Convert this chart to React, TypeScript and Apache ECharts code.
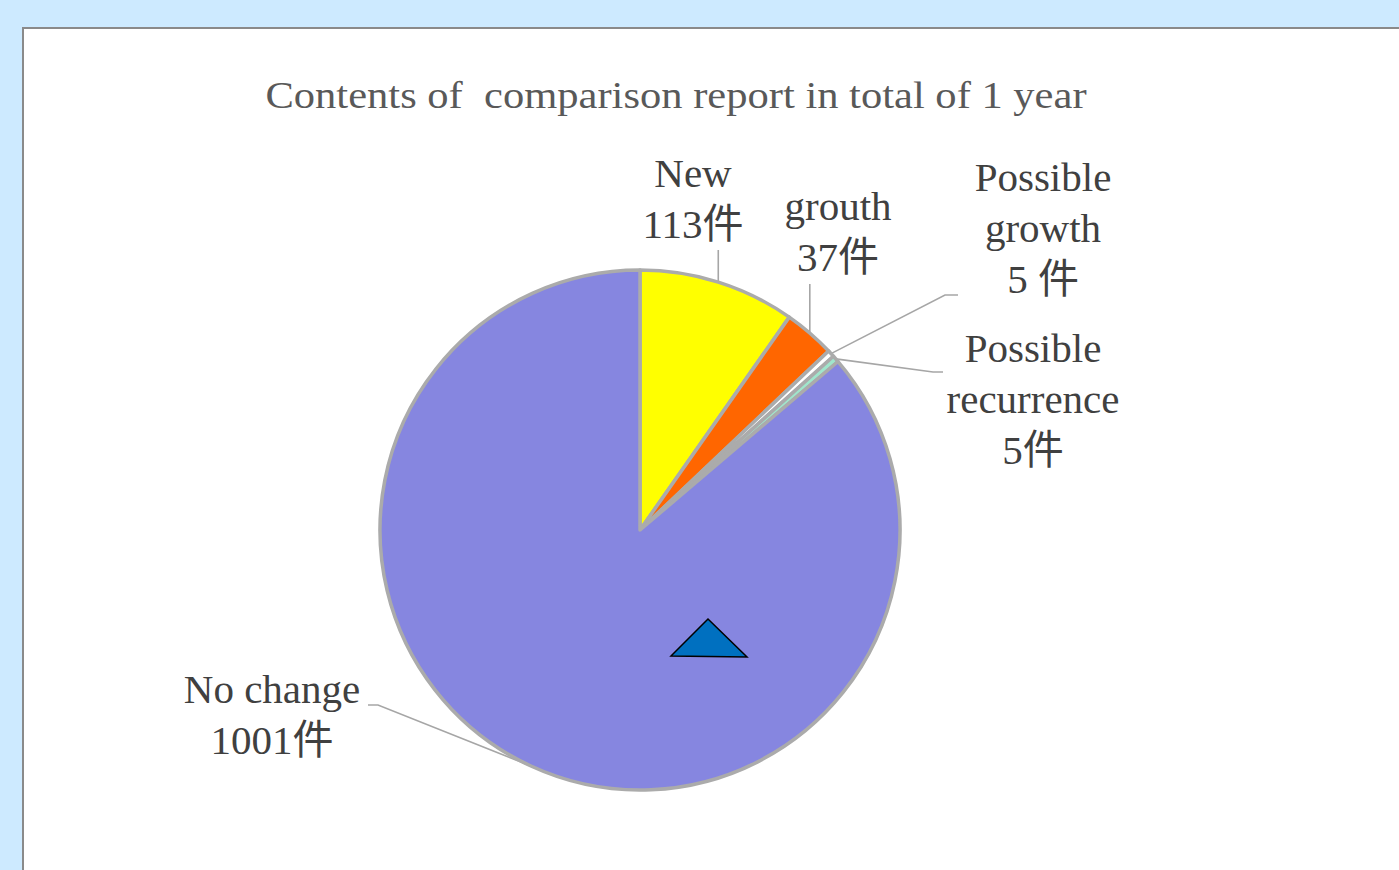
import React, { useEffect, useRef } from "react";
import * as echarts from "echarts";

const chartTitle = "Contents of  comparison report in total of 1 year";
const categories = ["New", "grouth", "Possible\ngrowth", "Possible\nrecurrence", "No change"];
const values = [113, 37, 5, 5, 1001];
const unitSeparators = ["", "", " ", "", ""];
const unitText = "件";
const sliceColors = ["#ffff00", "#ff6600", "#ffffff", "#a0e6cc", "#8686e0"];
const labelCenters: number[][] = [
  [693, 198],
  [838, 231],
  [1043, 228],
  [1033, 399],
  [272, 714],
];
// label line: [bend, end]; null means straight vertical line to given y
const labelLineEnds: (number[] | null)[][] = [
  [null, [0, 250]],
  [null, [0, 284]],
  [[945, 295], [958, 295]],
  [[933, 372], [943, 372]],
  [[378, 705], [368, 705]],
];

const FONT = "'Liberation Serif', 'Times New Roman', 'Noto Sans CJK JP', serif";

export default function App() {
  const ref = useRef<HTMLDivElement>(null);
  useEffect(() => {
    if (!ref.current) return;
    const chart = echarts.init(ref.current, null, { renderer: "svg" });
    const data = categories.map((name, i) => ({
      name,
      value: values[i],
      itemStyle: { color: sliceColors[i] },
    }));
    chart.setOption({
      animation: false,
      backgroundColor: "#cdeaff",
      graphic: [
        {
          type: "rect",
          z: 0,
          silent: true,
          shape: { x: 23, y: 28, width: 1420, height: 900 },
          style: { fill: "#ffffff", stroke: "#8a8a8a", lineWidth: 2 },
        },
        {
          type: "text",
          z: 10,
          x: 676,
          y: 95,
          scaleX: 1.12,
          style: {
            text: chartTitle,
            fontSize: 38,
            fontFamily: FONT,
            fill: "#595959",
            align: "center",
            verticalAlign: "middle",
          },
        },
        {
          type: "polygon",
          z: 100,
          shape: { points: [[708, 619], [671, 656], [747, 657]] },
          style: { fill: "#0070c0", stroke: "#000000", lineWidth: 1.5 },
        },
      ],
      series: [
        {
          type: "pie",
          z: 2,
          center: [640, 530],
          radius: 260,
          startAngle: 90,
          clockwise: true,
          silent: true,
          avoidLabelOverlap: false,
          itemStyle: { borderColor: "#ababab", borderWidth: 3.5 },
          emphasis: { disabled: true },
          label: {
            show: true,
            position: "outside",
            fontSize: 41,
            lineHeight: 51,
            fontFamily: FONT,
            color: "#404040",
            formatter: (p: any) => `${p.name}\n${p.value}${unitSeparators[p.dataIndex]}${unitText}`,
          },
          labelLine: {
            show: true,
            length: 10,
            length2: 10,
            lineStyle: { color: "#a6a6a6", width: 1.6 },
          },
          labelLayout: (params: any) => {
            const i = params.dataIndex;
            const c = labelCenters[i];
            const res: any = { x: c[0], y: c[1], align: "center", verticalAlign: "middle" };
            const pts = params.labelLinePoints;
            if (pts && pts[0]) {
              const a = pts[0];
              const [bend, end] = labelLineEnds[i];
              if (bend === null) {
                const e = [a[0], (end as number[])[1]];
                res.labelLinePoints = [a, e, e];
              } else {
                res.labelLinePoints = [a, bend, end];
              }
            }
            return res;
          },
          data,
        },
      ],
    });
    return () => chart.dispose();
  }, []);
  return (
    <div
      ref={ref}
      style={{ position: "absolute", left: 0, top: 0, width: 1399, height: 870 }}
    />
  );
}
